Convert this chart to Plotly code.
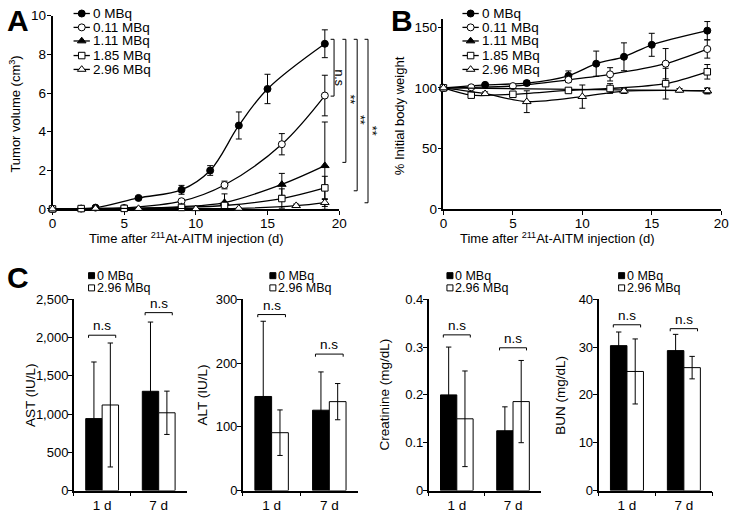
import plotly.graph_objects as go

W, H = 740, 516
FONT = "Arial, Liberation Sans, sans-serif"

# ---------------- data ----------------
doses = ["0 MBq", "0.11 MBq", "1.11 MBq", "1.85 MBq", "2.96 MBq"]

# Panel A: tumor volume (cm3)
a_days_0 = [0, 3, 6, 9, 11, 13, 15, 19]
a_vol_0 = [0.0, 0.07, 0.57, 0.99, 1.99, 4.32, 6.21, 8.55]
a_sd_0 = [0.0, 0.04, 0.06, 0.23, 0.25, 0.70, 0.76, 0.72]
a_days_011 = [0, 2, 5, 9, 12, 16, 19]
a_vol_011 = [0.0, 0.02, 0.05, 0.40, 1.24, 3.35, 5.87]
a_sd_011 = [0.0, 0.01, 0.02, 0.06, 0.20, 0.55, 1.05]
a_days_111 = [0, 2, 5, 9, 12, 16, 19]
a_vol_111 = [0.0, 0.01, 0.03, 0.12, 0.33, 1.27, 2.24]
a_sd_111 = [0.0, 0.0, 0.01, 0.05, 0.45, 0.57, 2.26]
a_days_185 = [0, 2, 5, 9, 12, 16, 19]
a_vol_185 = [0.0, 0.02, 0.03, 0.08, 0.18, 0.54, 1.09]
a_sd_185 = [0.0, 0.01, 0.01, 0.03, 0.10, 0.50, 0.60]
a_days_296 = [0, 3, 6, 10, 13, 17, 19]
a_vol_296 = [0.0, 0.03, 0.02, 0.01, 0.03, 0.17, 0.33]
a_sd_296 = [0.0, 0.01, 0.01, 0.01, 0.02, 0.08, 0.20]

# Panel B: % initial body weight
b_days_0 = [0, 3, 6, 9, 11, 13, 15, 19]
b_w_0 = [100, 102.5, 104, 110, 120, 125.7, 135.6, 147.3]
b_sd_0 = [0, 1, 2, 4, 10.4, 11.5, 9.5, 7.5]
b_days_011 = [0, 2, 5, 9, 12, 16, 19]
b_w_011 = [100, 100.5, 101.5, 106.7, 111.2, 120, 132.1]
b_sd_011 = [0, 1, 1.5, 2, 5.5, 12.5, 7.5]
b_days_111 = [0, 19]
b_w_111 = [100, 97.5]
b_sd_111 = [0, 2]
b_days_185 = [0, 2, 5, 9, 12, 16, 19]
b_w_185 = [100, 94, 94.7, 97.9, 99.5, 103.5, 113.3]
b_sd_185 = [0, 1.5, 1.5, 2, 4, 12.7, 6]
b_days_296 = [0, 3, 6, 10, 13, 17, 19]
b_w_296 = [100, 95.2, 88.6, 92.8, 97.4, 98, 97.5]
b_sd_296 = [0, 1.5, 9, 9.6, 2, 1.5, 2.5]

# Panel C: blood chemistry
c_groups = ["1 d", "7 d"]
c_series = ["0 MBq", "2.96 MBq"]
ast_0 = [940, 1297]
ast_0_sd = [740, 905]
ast_296 = [1118, 1016]
ast_296_sd = [810, 283]
alt_0 = [147.5, 126]
alt_0_sd = [118, 60]
alt_296 = [90.7, 139.4]
alt_296_sd = [35.7, 28.4]
cre_0 = [0.2, 0.125]
cre_0_sd = [0.1, 0.05]
cre_296 = [0.15, 0.186]
cre_296_sd = [0.1, 0.086]
bun_0 = [30.3, 29.26]
bun_0_sd = [2.85, 3.4]
bun_296 = [24.9, 25.7]
bun_296_sd = [6.8, 2.35]
sig_label = "n.s"

# ---------------- helpers ----------------
def fx(p):
    return p / W

def fy(p):
    return 1 - p / H

STYLE = {
    "0 MBq": dict(symbol="circle", color="black", size=7),
    "0.11 MBq": dict(symbol="circle", color="white", size=7),
    "1.11 MBq": dict(symbol="triangle-up", color="black", size=7.5),
    "1.85 MBq": dict(symbol="square", color="white", size=6.5),
    "2.96 MBq": dict(symbol="triangle-up", color="white", size=7.5),
}

fig = go.Figure()

def add_line_series(xs, ys, sd, name, xa, ya, smooth):
    st = STYLE[name]
    fig.add_trace(go.Scatter(
        x=xs, y=ys, name=name, mode="lines+markers", xaxis=xa, yaxis=ya,
        line=dict(color="black", width=1.3, shape="spline", smoothing=smooth),
        marker=dict(symbol=st["symbol"], color=st["color"], size=st["size"],
                    line=dict(color="black", width=1)),
        error_y=dict(type="data", array=sd, visible=True, color="black",
                     thickness=1, width=3),
        cliponaxis=False, showlegend=False))

a_sets = [(a_days_0, a_vol_0, a_sd_0), (a_days_011, a_vol_011, a_sd_011),
          (a_days_111, a_vol_111, a_sd_111), (a_days_185, a_vol_185, a_sd_185),
          (a_days_296, a_vol_296, a_sd_296)]
b_sets = [(b_days_0, b_w_0, b_sd_0), (b_days_011, b_w_011, b_sd_011),
          (b_days_111, b_w_111, b_sd_111), (b_days_185, b_w_185, b_sd_185),
          (b_days_296, b_w_296, b_sd_296)]
for name, (d, v, s) in zip(doses, a_sets):
    add_line_series(d, v, s, name, "x", "y", 1.0)
for name, (d, v, s) in zip(doses, b_sets):
    add_line_series(d, v, s, name, "x2", "y2", 0.8)

c_panels = [
    (3, "AST (IU/L)", [(ast_0, ast_0_sd), (ast_296, ast_296_sd)], [0, 2500], 500, ",", [2030, 2325]),
    (4, "ALT (IU/L)", [(alt_0, alt_0_sd), (alt_296, alt_296_sd)], [0, 300], 100, "", [276, 214]),
    (5, "Creatinine (mg/dL)", [(cre_0, cre_0_sd), (cre_296, cre_296_sd)], [0, 0.4], 0.1, "", [0.3255, 0.2985]),
    (6, "BUN (mg/dL)", [(bun_0, bun_0_sd), (bun_296, bun_296_sd)], [0, 40], 10, "", [34.66, 33.85]),
]
bar_colors = ["black", "white"]
for n, title, series, yr, dt, fmt, brk in c_panels:
    for k, (vals, sds) in enumerate(series):
        fig.add_trace(go.Bar(
            x=c_groups, y=vals, name=c_series[k], xaxis=f"x{n}", yaxis=f"y{n}",
            offsetgroup=str(k), marker=dict(color=bar_colors[k], line=dict(color="black", width=1)),
            error_y=dict(type="data", array=sds, visible=True, color="black", thickness=1, width=2.7),
            showlegend=False))

# ---------------- layout ----------------
axis_common = dict(showline=True, linecolor="black", linewidth=1.6, ticks="outside",
                   tickcolor="black", tickwidth=1.3, ticklen=4, showgrid=False,
                   zeroline=False, layer="below traces",
                   tickfont=dict(family=FONT, size=13.5, color="black"))

layout = dict(
    width=W, height=H, margin=dict(l=0, r=0, t=0, b=0),
    paper_bgcolor="white", plot_bgcolor="rgba(0,0,0,0)",
    barmode="group", bargap=0.42, bargroupgap=0,
    font=dict(family=FONT, color="black"),
    showlegend=False,
    xaxis=dict(axis_common, domain=[fx(49.3), fx(340.7)], range=[0, 20], tickvals=[0, 5, 10, 15, 20],
               anchor="y", ticklabelstandoff=-3),
    yaxis=dict(axis_common, domain=[fy(208), fy(9)], range=[0, 10], tickvals=[0, 2, 4, 6, 8, 10],
               anchor="x", ticklabelstandoff=-2),
    xaxis2=dict(axis_common, domain=[fx(446.7), fx(729)], range=[0, 20], tickvals=[0, 5, 10, 15, 20],
                anchor="y2", ticklabelstandoff=-3),
    yaxis2=dict(axis_common, domain=[fy(208), fy(12)], range=[0, 157.2], tickvals=[0, 50, 100, 150],
                anchor="x2", ticklabelstandoff=-2),
    xaxis7=dict(domain=[0, 1], range=[0, W], visible=False, anchor="y7", fixedrange=True),
    yaxis7=dict(domain=[0, 1], range=[H, 0], visible=False, anchor="x7", fixedrange=True),
)
c_x_dom = {3: (71, 186), 4: (242.7, 360), 5: (431.7, 546), 6: (604.3, 720)}
for n, title, series, yr, dt, fmt, brk in c_panels:
    x0, x1 = c_x_dom[n]
    layout[f"xaxis{n}"] = dict(axis_common, domain=[fx(x0), fx(x1)], type="category",
                              tickson="boundaries", anchor=f"y{n}", ticklabelstandoff=1)
    layout[f"yaxis{n}"] = dict(axis_common, domain=[fy(498), fy(301)], range=yr, dtick=dt,
                              tickformat=fmt, anchor=f"x{n}", ticklabelstandoff=-3,
                              tickfont=dict(family=FONT, size=13, color="black"))
fig.update_layout(**layout)

ann = []
shapes = []
def text(x, y, s, size=13, angle=0, xanchor="center", yanchor="middle", bold=False):
    ann.append(dict(x=fx(x), y=fy(y), xref="paper", yref="paper", text=s, showarrow=False,
                    xanchor=xanchor, yanchor=yanchor, textangle=angle,
                    font=dict(family=FONT, size=size, color="black",
                              weight="bold" if bold else "normal")))

# panel letters
text(14, 14, "A", size=30, bold=True)
text(405, 14, "B", size=30, bold=True)
text(14, 279, "C", size=30, bold=True)

# axis titles
text(11, 110, "Tumor volume (cm<sup>3</sup>)", size=13, angle=-90)
text(186, 238, "Time after <sup>211</sup>At-AITM injection (d)", size=13)
text(402, 112, "% Initial body weight", size=13, angle=-90)
text(563, 238, "Time after <sup>211</sup>At-AITM injection (d)", size=13)
c_title_x = {3: 27.5, 4: 202, 5: 387, 6: 566}
for n, title, series, yr, dt, fmt, brk in c_panels:
    text(c_title_x[n], 399.5, title, size=13.5, angle=-90)

# legends A and B (drawn on the pixel overlay axis)
leg_rows = [6.7, 21, 35, 50, 64.3]
for lx0, lx1, mx, tx in [(70.7, 87.3, 79, 88.5), (466, 482.6, 474.3, 484)]:
    for name, ry in zip(doses, leg_rows):
        st = STYLE[name]
        fig.add_trace(go.Scatter(x=[lx0, lx1], y=[ry, ry], mode="lines", xaxis="x7", yaxis="y7",
                                 line=dict(color="black", width=1.3), showlegend=False, hoverinfo="skip"))
        fig.add_trace(go.Scatter(x=[mx], y=[ry], mode="markers", xaxis="x7", yaxis="y7",
                                 marker=dict(symbol=st["symbol"], color=st["color"], size=st["size"],
                                             line=dict(color="black", width=1)),
                                 showlegend=False, hoverinfo="skip"))
        text(tx, ry, name, size=13.5, xanchor="left")

# legends C
c_leg_x = {3: 89, 4: 273.3, 5: 453.3, 6: 627.8}
for n in c_leg_x:
    for k, ry in enumerate([276.7, 289.3]):
        fig.add_trace(go.Scatter(x=[c_leg_x[n]], y=[ry], mode="markers", xaxis="x7", yaxis="y7",
                                 marker=dict(symbol="square", color=bar_colors[k], size=6,
                                             line=dict(color="black", width=1)),
                                 showlegend=False, hoverinfo="skip"))
        text(c_leg_x[n] + 3.5, ry, c_series[k], size=12.5, xanchor="left")

# significance brackets panel A
a_brackets = [((332, 335.5), (8.78, 5.84), "n.s", 341, 73),
              ((344, 347.5), (8.78, 2.41), "**", 351.5, 95),
              ((355.5, 359), (8.78, 0.94), "**", 362.5, 116),
              ((366.5, 370), (8.78, 0.32), "**", 373.5, 128)]
for (bx0, bx1), (yt, yb), lab, tx, ty in a_brackets:
    for seg in [(bx0, yt, bx1, yt), (bx1, yt, bx1, yb), (bx0, yb, bx1, yb)]:
        shapes.append(dict(type="line", xref="paper", yref="y", x0=fx(seg[0]), y0=seg[1],
                           x1=fx(seg[2]), y1=seg[3], line=dict(color="black", width=1)))
    text(tx, ty, lab, size=12.5, angle=90)

# significance brackets panel C
for n, title, series, yr, dt, fmt, brk in c_panels:
    tick = (yr[1] - yr[0]) * 2.7 / 197
    for i, yb in enumerate(brk):
        cx = 0.25 + 0.5 * i
        xl, xr = cx - 0.12, cx + 0.12
        for seg in [(xl, yb - tick, xl, yb), (xl, yb, xr, yb), (xr, yb, xr, yb - tick)]:
            shapes.append(dict(type="line", xref=f"x{n} domain", yref=f"y{n}", x0=seg[0], y0=seg[1],
                               x1=seg[2], y1=seg[3], line=dict(color="black", width=1)))
        ann.append(dict(x=cx, y=yb, xref=f"x{n} domain", yref=f"y{n}", text=sig_label,
                        showarrow=False, xanchor="center", yanchor="bottom", yshift=0,
                        font=dict(family=FONT, size=13.5, color="black")))

fig.update_layout(annotations=ann, shapes=shapes)
fig.write_html("out.html", config={"displayModeBar": False},
               post_script="document.body.style.margin='0px';")
